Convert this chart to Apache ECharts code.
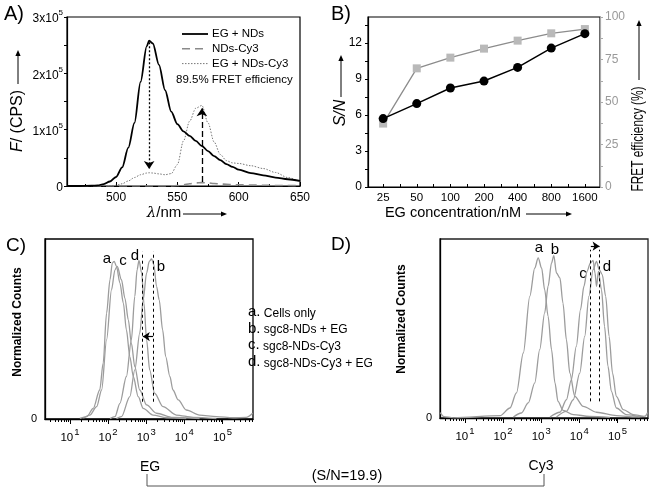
<!DOCTYPE html>
<html><head><meta charset="utf-8">
<script src="https://cdn.jsdelivr.net/npm/echarts@6/dist/echarts.min.js"></script>
<style>html,body{margin:0;padding:0;background:#fff}#c{width:654px;height:491px}</style>
</head><body><div id="c"></div>
<script>
// ---------- Panel A: emission spectra (units of 1e5 CPS) ----------
const lambdaA = [460,470,480,485,490,495,500,505,510,515,520,525,527,530,535,540,545,550,555,560,565,570,575,580,585,590,595,600,610,620,630,640,650];
const egNDs    = [0,0,0.005,0.01,0.035,0.08,0.16,0.33,0.68,1.12,1.85,2.48,2.58,2.53,2.15,1.7,1.32,1.1,0.97,0.89,0.8,0.71,0.62,0.53,0.46,0.39,0.34,0.29,0.23,0.19,0.15,0.12,0.09];
const ndsCy3   = [0,0,0,0,0,0,0,0,0,0,0,0,0,0,0,0,0.003,0.008,0.02,0.04,0.055,0.06,0.055,0.045,0.035,0.03,0.025,0.022,0.018,0.014,0.01,0.008,0.006];
const egNDsCy3 = [0,0,0,0,0.003,0.006,0.012,0.04,0.09,0.15,0.2,0.23,0.235,0.23,0.215,0.2,0.22,0.38,0.8,1.15,1.38,1.43,1.12,0.78,0.56,0.45,0.41,0.4,0.36,0.31,0.24,0.15,0.07];
const seriesNamesA = ['EG + NDs','NDs-Cy3','EG + NDs-Cy3'];
const xTicksA = [500,550,600,650];
const xMinorA = [475,525,575,625];
const yTicksA = [0,1,2,3];
const yMinorA = [0.5,1.5,2.5];
const arrowDownA = [[527,2.55],[527,0.3]];
const arrowUpA = [[570,0.07],[570,1.38]];

// ---------- Panel B ----------
const catsB = ['25','50','100','200','400','800','1600'];
const snB   = [5.7,6.95,8.25,8.83,9.97,11.58,12.78];
const fretB = [37.3,69.8,76.1,81.4,86.1,90.4,92.9];
const yTicksBL = [0,3,6,9,12];
const yTicksBR = [0,25,50,75,100];

// ---------- Panel C: flow histograms (x = log10 intensity, y = normalized counts) ----------
const cCurveA = [[1.26,0.4],[1.44,1.3],[1.61,5.9],[1.78,16.1],[1.87,31],[1.96,58.8],[2.05,77.4],[2.11,86.6],[2.16,87.6],[2.22,84.8],[2.31,75.5],[2.40,64.4],[2.48,49.5],[2.57,34.7],[2.66,23.6],[2.79,12.4],[2.92,5.9],[3.18,2.2],[3.53,0.7],[4.05,0.2]];
const cCurveB = [[2.22,0.2],[2.35,1.3],[2.57,12.4],[2.70,27.3],[2.83,47.7],[2.92,66.2],[3.01,81.1],[3.08,87.6],[3.14,88.9],[3.20,85.7],[3.27,73.7],[3.34,66.2],[3.43,49.5],[3.51,34.7],[3.62,23.6],[3.70,16.1],[3.84,10.6],[4.05,5],[4.40,2.2],[4.84,1.3],[5.28,0.7],[5.62,0.9],[5.79,3.2]];
const cCurveC = [[1.35,0.4],[1.52,2.2],[1.70,6.9],[1.83,16.1],[1.96,44],[2.09,71.8],[2.18,82.9],[2.24,84.8],[2.35,77.4],[2.44,67.2],[2.53,55.1],[2.61,42.1],[2.70,29.1],[2.83,16.1],[3.01,7.8],[3.27,3.2],[3.70,0.9],[4.40,0.2]];
const cCurveD = [[2.05,0.2],[2.18,1.3],[2.31,8.7],[2.48,23.6],[2.61,44],[2.70,68.1],[2.76,82.9],[2.81,88.1],[2.88,81.1],[2.94,64.4],[3.01,44],[3.09,27.3],[3.22,14.3],[3.44,6.9],[3.79,2.2],[4.23,0.9],[4.84,0.2]];
const cDashX = [2.90,3.18];
const cDashY = [9.6,93];
const cArrow = [[3.18,45.8],[2.91,45.8]];

// ---------- Panel D ----------
const dCurveA = [[0.35,3],[0.45,0.8],[0.7,0.1],[1.92,1.3],[2.18,5.6],[2.35,14],[2.53,36.3],[2.70,68],[2.83,83.8],[2.92,89.4],[3.01,83.8],[3.09,71.7],[3.18,56.8],[3.27,38.2],[3.36,19.6],[3.44,9.3],[3.57,4.3],[3.84,1.9],[4.27,0.9],[4.8,0.4]];
const dCurveB = [[2.27,0.6],[2.48,2.8],[2.66,8.4],[2.83,19.6],[2.96,38.2],[3.09,58.7],[3.18,73.6],[3.27,86.6],[3.33,90.7],[3.40,81],[3.49,78.2],[3.57,64.2],[3.66,43.8],[3.75,25.1],[3.88,12.1],[4.1,6.5],[4.45,3.2],[4.97,1.3],[5.49,0.6],[5.72,1],[5.79,3]];
const dCurveC = [[3.23,0.6],[3.49,3.2],[3.66,10.2],[3.79,21.4],[3.92,40],[4.03,60.5],[4.12,73.6],[4.20,81.9],[4.29,86.6],[4.36,88.1],[4.41,81],[4.45,73.6],[4.50,81.9],[4.58,71.7],[4.66,51.2],[4.75,28.9],[4.84,14.9],[4.97,5.6],[5.23,1.9],[5.58,0.6]];
const dCurveD = [[3.40,0.6],[3.66,3.7],[3.84,10.2],[4.01,25.1],[4.14,45.6],[4.25,68],[4.36,82.9],[4.45,87.5],[4.52,82.9],[4.60,80.1],[4.69,68],[4.78,45.6],[4.87,25.1],[4.97,12.1],[5.15,4.7],[5.41,1.9],[5.67,0.9]];
const dDashX = [4.29,4.52];
const dDashY = [9.3,94];
const dArrow = [[4.30,96],[4.53,96]];

const logDecades = [1,2,3,4,5];
const legendC = [['a.','Cells only'],['b.','sgc8-NDs + EG'],['c.','sgc8-NDs-Cy3'],['d.','sgc8-NDs-Cy3 + EG']];

// ---------- helpers ----------
const FONT = '"Liberation Sans", Arial, sans-serif';
const HIST = '#9c9c9c';
const LOGMIN = 0.345, LOGMAX = 5.8;
const logMinor = [];
for (let d = 0; d <= 5; d++) for (let k = 2; k <= 9; k++) { const v = d + Math.log10(k); if (v > LOGMIN && v < LOGMAX) logMinor.push(v); }

function txt(x, y, text, size, extra) {
  const st = Object.assign({ text: text, x: 0, y: 0, fill: '#000', fontSize: size, fontFamily: FONT,
    align: 'center', verticalAlign: 'middle', textAlign: 'center', textVerticalAlign: 'middle' }, (extra && extra.style) || {});
  const el = { type: 'text', x: x, y: y, style: st, silent: true };
  if (extra && extra.rotation) el.rotation = extra.rotation;
  if (extra && extra.scaleX) el.scaleX = extra.scaleX;
  return el;
}
function arrow(x1, y1, x2, y2, color) {
  color = color || '#000';
  const a = Math.atan2(y2 - y1, x2 - x1), L = 6, W = 2.6;
  const hx = x2 - L * Math.cos(a), hy = y2 - L * Math.sin(a);
  const px = -Math.sin(a), py = Math.cos(a);
  return [
    { type: 'line', silent: true, shape: { x1: x1, y1: y1, x2: hx, y2: hy }, style: { stroke: color, lineWidth: 1 } },
    { type: 'polygon', silent: true, shape: { points: [[x2, y2], [hx + px * W, hy + py * W], [hx - px * W, hy - py * W]] }, style: { fill: color } }
  ];
}
function logAxes(grid) {
  return [
    { gridIndex: grid, type: 'value', position: 'bottom', min: LOGMIN, max: LOGMAX,
      axisLine: { onZero: false, lineStyle: { color: '#000', width: 1.3 } },
      axisTick: { customValues: logDecades, length: 5, lineStyle: { color: '#000' } },
      axisLabel: { customValues: logDecades, margin: 8, color: '#000',
        formatter: v => '{b|10}{s|' + Math.round(v) + '}',
        rich: { b: { fontSize: 11.5, fontFamily: FONT, lineHeight: 17, verticalAlign: 'bottom' }, s: { fontSize: 9.5, fontFamily: FONT, lineHeight: 17, verticalAlign: 'top', padding: [0, 0, 0, 1] } } },
      splitLine: { show: false } },
    { gridIndex: grid, type: 'value', position: 'bottom', min: LOGMIN, max: LOGMAX,
      axisLine: { show: false },
      axisTick: { customValues: logMinor, length: 3, lineStyle: { color: '#000' } },
      axisLabel: { show: false }, splitLine: { show: false } }
  ];
}
function histY(grid) {
  return { gridIndex: grid, type: 'value', min: 0, max: 100,
    axisLine: { onZero: false, lineStyle: { color: '#000', width: 1.3 } },
    axisTick: { show: false },
    axisLabel: { customValues: [0], color: '#000', fontSize: 11, margin: 8 },
    splitLine: { show: false } };
}
function hist(data, xi, yi, extra) {
  return Object.assign({ type: 'line', xAxisIndex: xi, yAxisIndex: yi, data: data, symbol: 'none',
    smooth: 0.3, smoothMonotone: 'x', lineStyle: { color: HIST, width: 1.3 }, itemStyle: { color: HIST }, z: 3 }, extra || {});
}
function dashMarks(dx, dy, arr) {
  return { silent: true, animation: false, label: { show: false }, symbolSize: 7,
    lineStyle: { color: '#000', width: 1, type: [3, 3] },
    data: [
      [{ coord: [dx[0], dy[0]], symbol: 'none' }, { coord: [dx[0], dy[1]], symbol: 'none' }],
      [{ coord: [dx[1], dy[0]], symbol: 'none' }, { coord: [dx[1], dy[1]], symbol: 'none' }],
      [{ coord: arr[0], symbol: 'none', lineStyle: { type: 'solid', width: 1.2 } }, { coord: arr[1], symbol: 'arrow' }]
    ] };
}

const chart = echarts.init(document.getElementById('c'), null, { renderer: 'canvas' });

const graphics = [];
// panel letters
graphics.push(txt(14, 14, 'A)', 20));
graphics.push(txt(341, 14, 'B)', 20));
graphics.push(txt(16, 246, 'C)', 19));
graphics.push(txt(341, 245, 'D)', 19));
// A titles
graphics.push(txt(18, 121, '{i|F}/ (CPS)', 16, { rotation: Math.PI / 2, style: { rich: { i: { fontStyle: 'italic', fontSize: 16, fontFamily: FONT } } } }));
graphics.push(...arrow(18, 84, 18, 50));
graphics.push(txt(164, 213, '{i|λ}/nm', 15, { style: { rich: { i: { fontStyle: 'italic', fontSize: 15, fontFamily: 'DejaVu Serif' } } } }));
graphics.push(...arrow(183, 214, 227, 214));
// A legend (drawn by hand to match line samples)
const legendStylesA = [
  { stroke: '#000', lineWidth: 1.8 },
  { stroke: '#8a8a8a', lineWidth: 1.6, lineDash: [8, 5] },
  { stroke: '#777', lineWidth: 1, lineDash: [1.5, 1.5] }
];
seriesNamesA.forEach((n, i) => {
  const y = 34 + i * 14.8;
  graphics.push({ type: 'line', silent: true, shape: { x1: 182, y1: y, x2: 208, y2: y }, style: legendStylesA[i] });
  graphics.push(txt(212, y, n, 11.5, { style: { align: 'left', textAlign: 'left' } }));
});
graphics.push(txt(176, 80, '89.5% FRET efficiency', 11.5, { style: { align: 'left', textAlign: 'left' } }));
// B titles
graphics.push(txt(453, 213, 'EG concentration/nM', 14.5));
graphics.push(...arrow(526, 214, 572, 214));
graphics.push(txt(341, 113, 'S/N', 16, { rotation: Math.PI / 2, style: { fontStyle: 'italic' } }));
graphics.push(...arrow(341, 97, 341, 55));
graphics.push(txt(639, 139, 'FRET efficiency (%)', 16, { rotation: Math.PI / 2, scaleX: 0.74 }));
graphics.push(...arrow(639, 80, 639, 20));
// C / D titles
graphics.push(txt(18, 322, 'Normalized Counts', 12, { rotation: Math.PI / 2, style: { fontWeight: 'bold' } }));
graphics.push(txt(402, 319, 'Normalized Counts', 12, { rotation: Math.PI / 2, style: { fontWeight: 'bold' } }));
// curve letters C
graphics.push(txt(107, 259, 'a', 15));
graphics.push(txt(123, 261, 'c', 15));
graphics.push(txt(135, 256, 'd', 15));
graphics.push(txt(161, 267, 'b', 15));
// curve letters D
graphics.push(txt(539, 248, 'a', 15));
graphics.push(txt(555, 250, 'b', 15));
graphics.push(txt(583, 274, 'c', 15));
graphics.push(txt(607, 267, 'd', 15));
// legend of C/D
legendC.forEach((row, i) => {
  graphics.push(txt(248, 311 + i * 16.6, '{l|' + row[0] + '}{t| ' + row[1] + '}', 12, {
    style: { align: 'left', textAlign: 'left', rich: { l: { fontSize: 15, fontFamily: FONT, verticalAlign: 'bottom', lineHeight: 17 }, t: { fontSize: 12, fontFamily: FONT, verticalAlign: 'bottom', lineHeight: 15 } } } }));
});
// bottom bracket
graphics.push(txt(150, 467, 'EG', 14));
graphics.push(txt(347, 476, '(S/N=19.9)', 14.5));
graphics.push(txt(541, 466, 'Cy3', 14));
graphics.push({ type: 'polyline', silent: true, shape: { points: [[147, 474], [147, 486], [544, 486], [544, 474]] }, style: { stroke: '#555', lineWidth: 1, fill: null } });

const option = {
  animation: false,
  backgroundColor: '#fff',
  textStyle: { fontFamily: FONT },
  grid: [
    { left: 67, top: 17, width: 233, height: 169, show: true, borderColor: '#000', borderWidth: 1.2 },
    { left: 368, top: 17, width: 232, height: 170, show: true, borderColor: '#000', borderWidth: 1.2 },
    { left: 45, top: 239, width: 208, height: 180, show: true, borderColor: '#000', borderWidth: 1.3 },
    { left: 440, top: 239, width: 208, height: 179, show: true, borderColor: '#222', borderWidth: 1.3 }
  ],
  xAxis: [
    // 0,1: panel A
    { gridIndex: 0, type: 'value', position: 'bottom', min: 460, max: 650,
      axisLine: { onZero: false, lineStyle: { color: '#000', width: 1.2 } },
      axisTick: { inside: true, length: 4, customValues: xTicksA, lineStyle: { color: '#000' } },
      axisLabel: { customValues: xTicksA, color: '#000', fontSize: 12, margin: 6 }, splitLine: { show: false } },
    { gridIndex: 0, type: 'value', position: 'bottom', min: 460, max: 650, axisLine: { show: false },
      axisTick: { inside: true, length: 2, customValues: xMinorA, lineStyle: { color: '#000' } },
      axisLabel: { show: false }, splitLine: { show: false } },
    // 2: panel B
    { gridIndex: 1, type: 'value', position: 'bottom', min: -0.45, max: 6.45,
      axisLine: { onZero: false, lineStyle: { color: '#000', width: 1.2 } },
      axisTick: { inside: true, length: 3, customValues: catsB.flatMap((c, i) => i < catsB.length - 1 ? [i, i + 0.5] : [i]), lineStyle: { color: '#000' } },
      axisLabel: { customValues: catsB.map((c, i) => i), formatter: v => catsB[Math.round(v)], color: '#000', fontSize: 11.5, margin: 5 },
      splitLine: { show: false } },
    // 3,4: panel C ; 5,6: panel D
    ...logAxes(2),
    ...logAxes(3)
  ],
  yAxis: [
    { gridIndex: 0, type: 'value', min: 0, max: 3,
      axisLine: { onZero: false, lineStyle: { color: '#000', width: 1.2 } },
      axisTick: { length: 3, customValues: yTicksA.concat(yMinorA), lineStyle: { color: '#000' } },
      axisLabel: { customValues: yTicksA, color: '#000', margin: 4,
        formatter: v => v === 0 ? '{b|0}' : '{b|' + v + 'x10}{s|5}',
        rich: { b: { fontSize: 12, fontFamily: FONT, lineHeight: 16, verticalAlign: 'bottom' }, s: { fontSize: 8, fontFamily: FONT, lineHeight: 16, verticalAlign: 'top' } } },
      splitLine: { show: false } },
    { gridIndex: 1, type: 'value', min: 0, max: 14.17,
      axisLine: { onZero: false, lineStyle: { color: '#000', width: 1.2 } },
      axisTick: { length: 3, customValues: [0, 1.5, 3, 4.5, 6, 7.5, 9, 10.5, 12, 13.5], lineStyle: { color: '#000' } },
      axisLabel: { customValues: yTicksBL, color: '#000', fontSize: 12, margin: 6 }, splitLine: { show: false } },
    { gridIndex: 1, type: 'value', position: 'right', min: 0, max: 100,
      axisLine: { show: true, onZero: false, lineStyle: { color: '#aaa', width: 1.2 } },
      axisTick: { length: 3, customValues: [0, 12.5, 25, 37.5, 50, 62.5, 75, 87.5, 100], lineStyle: { color: '#aaa' } },
      axisLabel: { customValues: yTicksBR, color: '#999', fontSize: 12, margin: 5 }, splitLine: { show: false } },
    histY(2),
    histY(3)
  ],
  series: [
    { type: 'line', name: seriesNamesA[0], xAxisIndex: 0, yAxisIndex: 0, symbol: 'none', smooth: 0.3, smoothMonotone: 'x',
      data: lambdaA.map((l, i) => [l, egNDs[i]]), lineStyle: { color: '#000', width: 1.8 }, itemStyle: { color: '#000' }, z: 4,
      markLine: { silent: true, label: { show: false }, symbolSize: 8,
        data: [
          [{ coord: arrowDownA[0], symbol: 'none', lineStyle: { type: [2, 2], color: '#000', width: 1.3 } }, { coord: arrowDownA[1], symbol: 'arrow' }],
          [{ coord: arrowUpA[0], symbol: 'none', lineStyle: { type: [6, 3], color: '#000', width: 1.3 } }, { coord: arrowUpA[1], symbol: 'arrow' }]
        ] } },
    { type: 'line', name: seriesNamesA[1], xAxisIndex: 0, yAxisIndex: 0, symbol: 'none', smooth: 0.3, smoothMonotone: 'x',
      data: lambdaA.map((l, i) => [l, ndsCy3[i]]), lineStyle: { color: '#8a8a8a', width: 1.6, type: [8, 5] }, itemStyle: { color: '#8a8a8a' } },
    { type: 'line', name: seriesNamesA[2], xAxisIndex: 0, yAxisIndex: 0, symbol: 'none', smooth: 0.3, smoothMonotone: 'x',
      data: lambdaA.map((l, i) => [l, egNDsCy3[i]]), lineStyle: { color: '#777', width: 1, type: [1.5, 1.5] }, itemStyle: { color: '#777' } },
    // panel B
    { type: 'line', xAxisIndex: 2, yAxisIndex: 2, data: fretB.map((v, i) => [i, v]), symbol: 'rect', symbolSize: 8,
      lineStyle: { color: '#8c8c8c', width: 1.3 }, itemStyle: { color: '#b9b9b9' }, z: 3 },
    { type: 'line', xAxisIndex: 2, yAxisIndex: 1, data: snB.map((v, i) => [i, v]), symbol: 'circle', symbolSize: 9,
      lineStyle: { color: '#000', width: 1.5 }, itemStyle: { color: '#000' }, z: 4 },
    // panel C
    hist(cCurveA, 3, 3, { markLine: dashMarks(cDashX, cDashY, cArrow) }),
    hist(cCurveB, 3, 3),
    hist(cCurveC, 3, 3),
    hist(cCurveD, 3, 3),
    // panel D
    hist(dCurveA, 5, 4, { markLine: dashMarks(dDashX, dDashY, dArrow) }),
    hist(dCurveB, 5, 4),
    hist(dCurveC, 5, 4),
    hist(dCurveD, 5, 4)
  ],
  graphic: { elements: graphics }
};
chart.setOption(option);
</script>
</body></html>
